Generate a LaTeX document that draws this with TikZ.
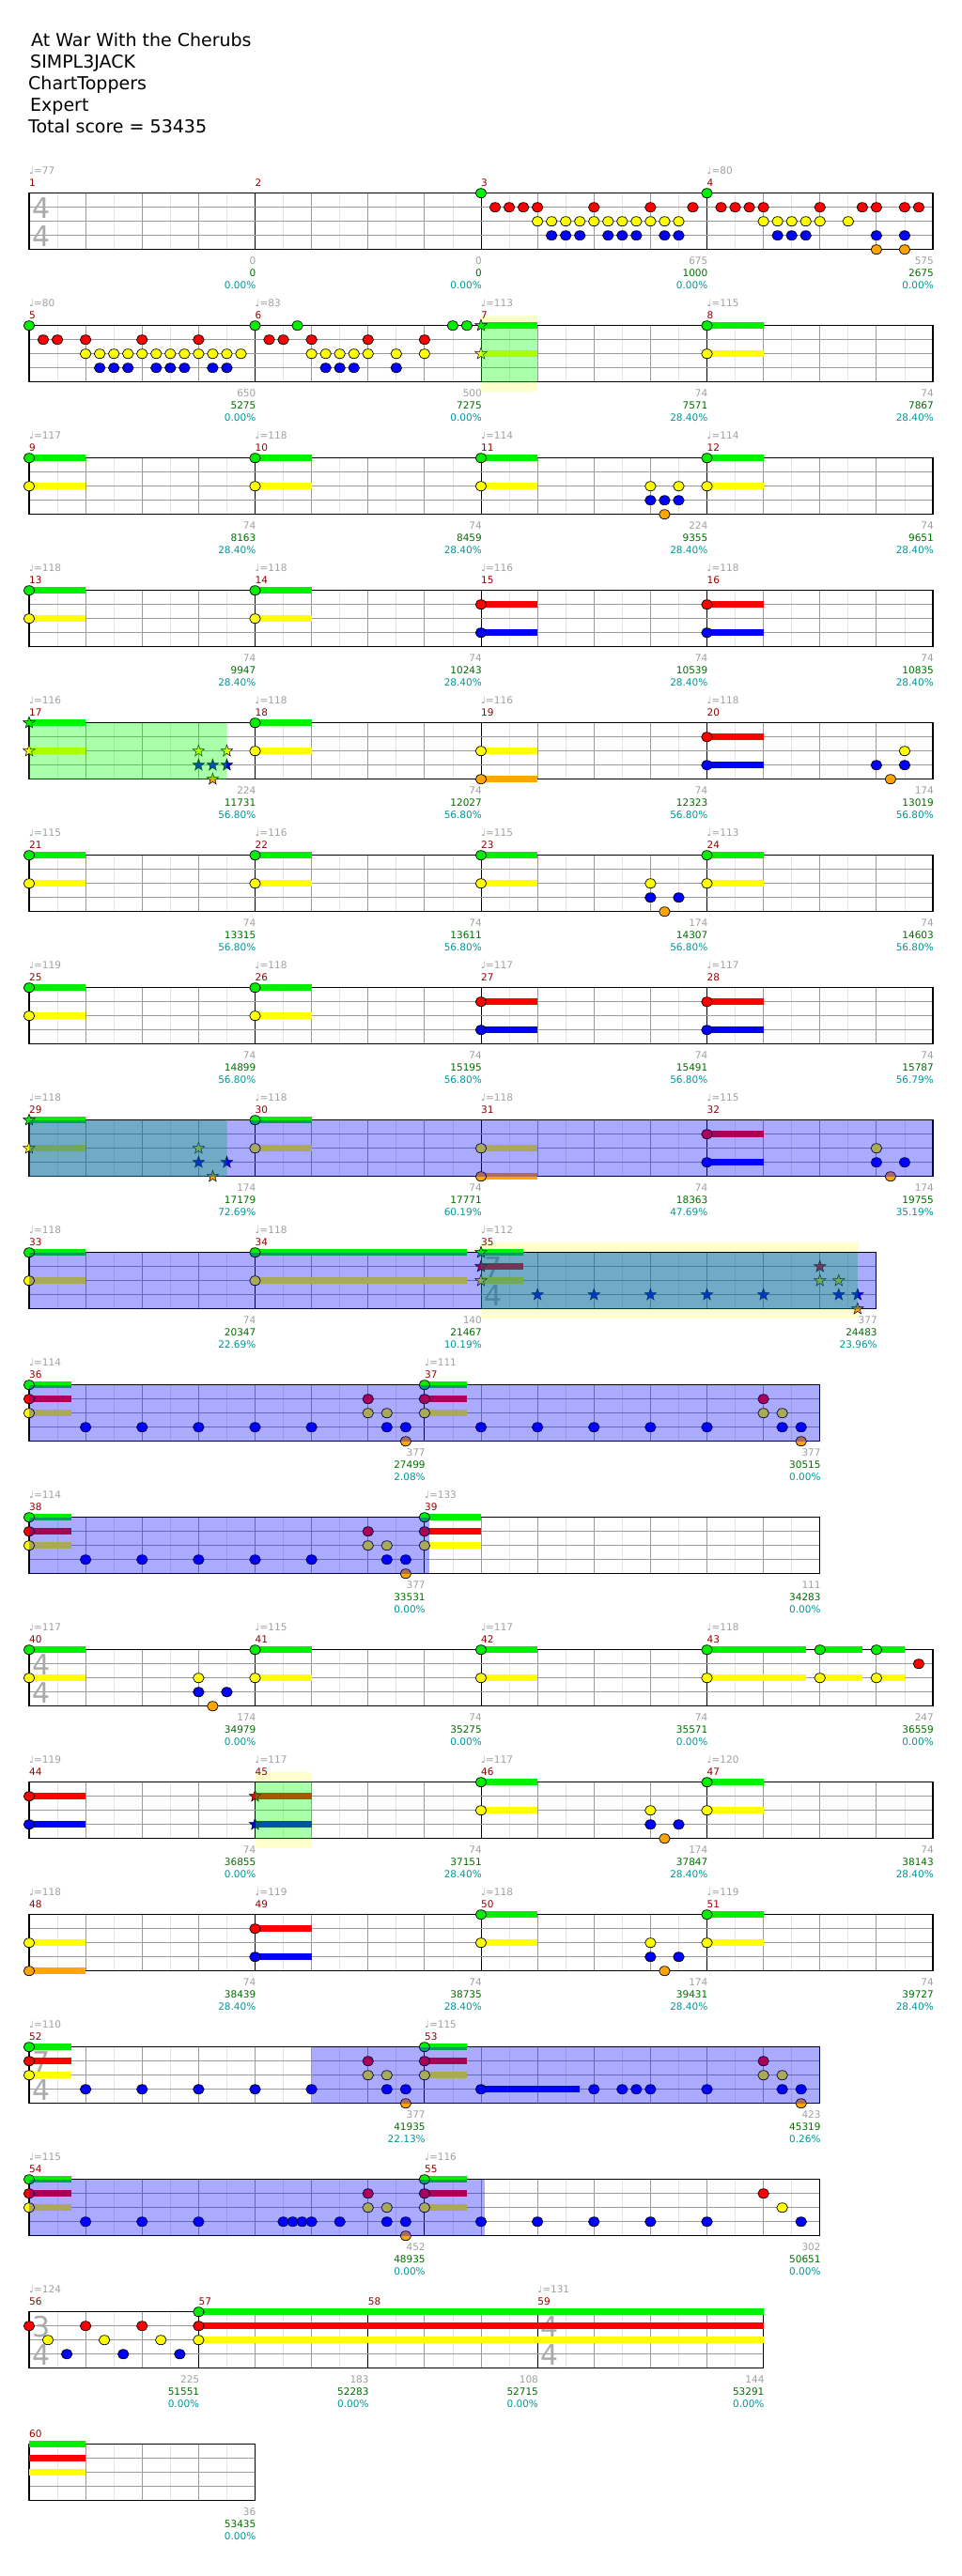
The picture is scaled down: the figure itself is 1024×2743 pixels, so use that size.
\documentclass[tikz,border=0pt]{standalone}
\usepackage{fontspec}
\setmainfont{DejaVu Sans}
\definecolor{notegreen}{RGB}{0,240,0}
\definecolor{notered}{RGB}{255,0,0}
\definecolor{noteyellow}{RGB}{255,255,0}
\definecolor{noteblue}{RGB}{0,0,255}
\definecolor{noteorange}{RGB}{255,165,0}
\definecolor{gridlight}{RGB}{228,228,228}
\definecolor{gridmid}{RGB}{155,155,155}
\definecolor{spgreen}{RGB}{0,255,0}
\definecolor{odblue}{RGB}{0,0,255}
\definecolor{soloyellow}{RGB}{255,255,204}
\definecolor{measred}{RGB}{150,0,0}
\definecolor{labelgray}{RGB}{160,160,160}
\definecolor{scoregreen}{RGB}{0,110,0}
\definecolor{pctteal}{RGB}{0,150,150}
\definecolor{sigray}{RGB}{170,170,170}
\tikzset{
  hitnote/.style={draw=black, line width=0.7pt},
  starnote/.style={draw=black, line width=0.5pt},
  halfline/.style={draw=gridlight, line width=0.8pt},
  beatline/.style={draw=gridmid, line width=0.9pt},
  laneline/.style={draw=gridmid, line width=1pt},
  measline/.style={draw=black, line width=0.8pt},
  staffedge/.style={draw=black, line width=1.2pt},
  spfill/.style={fill=spgreen, fill opacity=0.333},
  odfill/.style={fill=odblue, fill opacity=0.333},
  soloband/.style={fill=soloyellow},
  smalltext/.style={inner sep=0pt, text height=7.6pt, text depth=0pt, font=\fontsize{10.5}{12}\selectfont},
  measnum/.style={smalltext, anchor=west, text=measred},
  tempomark/.style={smalltext, anchor=west, text=labelgray},
  ptslabel/.style={smalltext, anchor=east, text=labelgray},
  scorelabel/.style={smalltext, anchor=east, text=scoregreen},
  pctlabel/.style={smalltext, anchor=east, text=pctteal},
  songinfo/.style={anchor=base west, inner sep=0pt, font=\fontsize{19}{22}\selectfont},
  timesig/.style={inner sep=0pt, text height=21.9pt, text depth=0pt, text=sigray, font=\fontsize{30}{30}\selectfont}
}
\newcommand{\hit}[4]{%
  \pgfmathsetmacro{\hx}{31+60.125*(#2)}\pgfmathsetmacro{\hy}{205.7+141*(#1)+15*(#3)}%
  \filldraw[hitnote, fill=#4] (\hx,\hy) ellipse [x radius=5.8, y radius=5];}
\newcommand{\spstar}[4]{%
  \pgfmathsetmacro{\hx}{31+60.125*(#2)}\pgfmathsetmacro{\hy}{205.7+141*(#1)+15*(#3)}%
  \filldraw[starnote, fill=#4, shift={(\hx,\hy)}] (270:6.5) -- (306:2.7) -- (342:6.5) -- (18:2.7) -- (54:6.5)
    -- (90:2.7) -- (126:6.5) -- (162:2.7) -- (198:6.5) -- (234:2.7) -- cycle;}
\newcommand{\hold}[5]{%
  \pgfmathsetmacro{\hx}{31+60.125*(#2)}\pgfmathsetmacro{\hxe}{31+60.125*(#3)}%
  \pgfmathsetmacro{\hy}{205.7+141*(#1)+15*(#4)}%
  \fill[#5] (\hx,\hy-3.5) rectangle (\hxe,\hy+3.5);}
\newcommand{\spzone}[3]{%
  \pgfmathsetmacro{\hx}{31+60.125*(#2)}\pgfmathsetmacro{\hxe}{31+60.125*(#3)}\pgfmathsetmacro{\hy}{205.7+141*(#1)}%
  \fill[spfill] (\hx,\hy) rectangle (\hxe,\hy+60);}
\newcommand{\odzone}[3]{%
  \pgfmathsetmacro{\hx}{31+60.125*(#2)}\pgfmathsetmacro{\hxe}{31+60.125*(#3)}\pgfmathsetmacro{\hy}{205.7+141*(#1)}%
  \fill[odfill] (\hx,\hy) rectangle (\hxe,\hy+60);}
\newcommand{\solo}[3]{%
  \pgfmathsetmacro{\hx}{31+60.125*(#2)}\pgfmathsetmacro{\hxe}{31+60.125*(#3)}\pgfmathsetmacro{\hy}{205.7+141*(#1)}%
  \fill[soloband] (\hx,\hy-10.7) rectangle (\hxe,\hy+70.7);}
\newcommand{\staffbg}[2]{%
  \pgfmathsetmacro{\hxe}{31+60.125*(#2)}\pgfmathsetmacro{\hy}{205.7+141*(#1)}%
  \fill[white] (31,\hy) rectangle (\hxe,\hy+60);}
\newcommand{\stafflines}[2]{%
  \pgfmathsetmacro{\hxe}{31+60.125*(#2)}\pgfmathsetmacro{\hy}{205.7+141*(#1)}%
  \foreach \ii in {1,2,3} \draw[laneline] (31,\hy+15*\ii) -- (\hxe,\hy+15*\ii);
  \draw[staffedge] (31,\hy) rectangle (\hxe,\hy+60);}
\newcommand{\tsig}[4]{%
  \pgfmathsetmacro{\hx}{44+60.125*(#2)}\pgfmathsetmacro{\hy}{205.7+141*(#1)}%
  \node[timesig] (tsig#1x#2up) at (\hx,\hy+15.5) {#3};
  \node[timesig] (tsig#1x#2dn) at (\hx,\hy+45.5) {#4};}
\newcommand{\meas}[8]{%
  \pgfmathsetmacro{\mx}{31+60.125*(#3)}\pgfmathsetmacro{\mxe}{31+60.125*(#3+#4)}%
  \pgfmathsetmacro{\my}{205.7+141*(#1)}%
  \foreach \k in {1,...,#4} \draw[halfline] ({\mx+60.125*(\k-0.5)},\my) -- ++(0,60);
  \foreach \k in {1,...,#4} \draw[beatline] ({\mx+60.125*\k},\my) -- ++(0,60);
  \draw[measline] (\mx,\my) -- ++(0,60);
  \node[measnum] (mnum#2) at (\mx,\my-11.4) {#2};
  \if\relax\detokenize{#5}\relax\else\node[tempomark] (mtempo#2) at (\mx,\my-24.5) {♩=#5};\fi
  \node[ptslabel] (mpts#2) at (\mxe+1,\my+72.3) {#6};
  \node[scorelabel] (mscore#2) at (\mxe+1,\my+85.3) {#7};
  \node[pctlabel] (mpct#2) at (\mxe+1,\my+98.3) {#8};}
\begin{document}
\begin{tikzpicture}[x=1pt, y=-1pt]
\useasboundingbox (0,0) rectangle (1024,2743);
\fill[white] (0,0) rectangle (1024,2743);
\node[songinfo] (songtitle) at (33,49.5) {At War With the Cherubs};
\node[songinfo] (songartist) at (32,72.5) {SIMPL3JACK};
\node[songinfo] (songcharter) at (30,95.5) {ChartToppers};
\node[songinfo] (songlevel) at (32,118.5) {Expert};
\node[songinfo] (songscore) at (30,141.5) {Total score = 53435};

\staffbg{0}{16}
\meas{0}{1}{0}{4}{77}{0}{0}{0.00\%}
\meas{0}{2}{4}{4}{}{0}{0}{0.00\%}
\meas{0}{3}{8}{4}{}{675}{1000}{0.00\%}
\meas{0}{4}{12}{4}{80}{575}{2675}{0.00\%}
\stafflines{0}{16}
\tsig{0}{0}{4}{4}
\foreach \b in {8,12} \hit{0}{\b}{0}{notegreen};
\foreach \b in {8.25,8.5,8.75,9,10,11,11.75,12.25,12.5,12.75,13,14,14.75,15,15.5,15.75} \hit{0}{\b}{1}{notered};
\foreach \b in {9,9.25,9.5,9.75,10,10.25,10.5,10.75,11,11.25,11.5,13,13.25,13.5,13.75,14,14.5} \hit{0}{\b}{2}{noteyellow};
\foreach \b in {9.25,9.5,9.75,10.25,10.5,10.75,11.25,11.5,13.25,13.5,13.75,15,15.5} \hit{0}{\b}{3}{noteblue};
\foreach \b in {15,15.5} \hit{0}{\b}{4}{noteorange};

\solo{1}{8}{9}
\staffbg{1}{16}
\meas{1}{5}{0}{4}{80}{650}{5275}{0.00\%}
\meas{1}{6}{4}{4}{83}{500}{7275}{0.00\%}
\meas{1}{7}{8}{4}{113}{74}{7571}{28.40\%}
\meas{1}{8}{12}{4}{115}{74}{7867}{28.40\%}
\stafflines{1}{16}
\hold{1}{8}{9}{0}{notegreen} \hold{1}{12}{13}{0}{notegreen}
\hold{1}{8}{9}{2}{noteyellow} \hold{1}{12}{13}{2}{noteyellow}
\foreach \b in {0,4,4.75,7.5,7.75,12} \hit{1}{\b}{0}{notegreen};
\foreach \b in {0.25,0.5,1,2,3,4.25,4.5,5,6,7} \hit{1}{\b}{1}{notered};
\foreach \b in {1,1.25,1.5,1.75,2,2.25,2.5,2.75,3,3.25,3.5,3.75,5,5.25,5.5,5.75,6,6.5,7,12} \hit{1}{\b}{2}{noteyellow};
\foreach \b in {1.25,1.5,1.75,2.25,2.5,2.75,3.25,3.5,5.25,5.5,5.75,6.5} \hit{1}{\b}{3}{noteblue};
\spstar{1}{8}{0}{notegreen} \spstar{1}{8}{2}{noteyellow}
\spzone{1}{8}{9}

\staffbg{2}{16}
\meas{2}{9}{0}{4}{117}{74}{8163}{28.40\%}
\meas{2}{10}{4}{4}{118}{74}{8459}{28.40\%}
\meas{2}{11}{8}{4}{114}{224}{9355}{28.40\%}
\meas{2}{12}{12}{4}{114}{74}{9651}{28.40\%}
\stafflines{2}{16}
\foreach \b in {0,4,8,12} {\hold{2}{\b}{\b+1}{0}{notegreen} \hold{2}{\b}{\b+1}{2}{noteyellow}}
\foreach \b in {0,4,8,12} \hit{2}{\b}{0}{notegreen};
\foreach \b in {0,4,8,11,11.5,12} \hit{2}{\b}{2}{noteyellow};
\foreach \b in {11,11.25,11.5} \hit{2}{\b}{3}{noteblue};
\hit{2}{11.25}{4}{noteorange}

\staffbg{3}{16}
\meas{3}{13}{0}{4}{118}{74}{9947}{28.40\%}
\meas{3}{14}{4}{4}{118}{74}{10243}{28.40\%}
\meas{3}{15}{8}{4}{116}{74}{10539}{28.40\%}
\meas{3}{16}{12}{4}{118}{74}{10835}{28.40\%}
\stafflines{3}{16}
\foreach \b in {0,4} {\hold{3}{\b}{\b+1}{0}{notegreen} \hold{3}{\b}{\b+1}{2}{noteyellow}
  \hit{3}{\b}{0}{notegreen} \hit{3}{\b}{2}{noteyellow}}
\foreach \b in {8,12} {\hold{3}{\b}{\b+1}{1}{notered} \hold{3}{\b}{\b+1}{3}{noteblue}
  \hit{3}{\b}{1}{notered} \hit{3}{\b}{3}{noteblue}}

\staffbg{4}{16}
\meas{4}{17}{0}{4}{116}{224}{11731}{56.80\%}
\meas{4}{18}{4}{4}{118}{74}{12027}{56.80\%}
\meas{4}{19}{8}{4}{116}{74}{12323}{56.80\%}
\meas{4}{20}{12}{4}{118}{174}{13019}{56.80\%}
\stafflines{4}{16}
\hold{4}{0}{1}{0}{notegreen} \hold{4}{4}{5}{0}{notegreen}
\hold{4}{0}{1}{2}{noteyellow} \hold{4}{4}{5}{2}{noteyellow} \hold{4}{8}{9}{2}{noteyellow}
\hold{4}{8}{9}{4}{noteorange} \hold{4}{12}{13}{1}{notered} \hold{4}{12}{13}{3}{noteblue}
\hit{4}{4}{0}{notegreen}
\foreach \b in {4,8,15.5} \hit{4}{\b}{2}{noteyellow};
\foreach \b in {8,15.25} \hit{4}{\b}{4}{noteorange};
\hit{4}{12}{1}{notered}
\foreach \b in {12,15,15.5} \hit{4}{\b}{3}{noteblue};
\spstar{4}{0}{0}{notegreen}
\foreach \b in {0,3,3.5} \spstar{4}{\b}{2}{noteyellow};
\foreach \b in {3,3.25,3.5} \spstar{4}{\b}{3}{noteblue};
\spstar{4}{3.25}{4}{noteorange}
\spzone{4}{0}{3.5}

\staffbg{5}{16}
\meas{5}{21}{0}{4}{115}{74}{13315}{56.80\%}
\meas{5}{22}{4}{4}{116}{74}{13611}{56.80\%}
\meas{5}{23}{8}{4}{115}{174}{14307}{56.80\%}
\meas{5}{24}{12}{4}{113}{74}{14603}{56.80\%}
\stafflines{5}{16}
\foreach \b in {0,4,8,12} {\hold{5}{\b}{\b+1}{0}{notegreen} \hold{5}{\b}{\b+1}{2}{noteyellow}}
\foreach \b in {0,4,8,12} \hit{5}{\b}{0}{notegreen};
\foreach \b in {0,4,8,11,12} \hit{5}{\b}{2}{noteyellow};
\foreach \b in {11,11.5} \hit{5}{\b}{3}{noteblue};
\hit{5}{11.25}{4}{noteorange}

\staffbg{6}{16}
\meas{6}{25}{0}{4}{119}{74}{14899}{56.80\%}
\meas{6}{26}{4}{4}{118}{74}{15195}{56.80\%}
\meas{6}{27}{8}{4}{117}{74}{15491}{56.80\%}
\meas{6}{28}{12}{4}{117}{74}{15787}{56.79\%}
\stafflines{6}{16}
\foreach \b in {0,4} {\hold{6}{\b}{\b+1}{0}{notegreen} \hold{6}{\b}{\b+1}{2}{noteyellow}
  \hit{6}{\b}{0}{notegreen} \hit{6}{\b}{2}{noteyellow}}
\foreach \b in {8,12} {\hold{6}{\b}{\b+1}{1}{notered} \hold{6}{\b}{\b+1}{3}{noteblue}
  \hit{6}{\b}{1}{notered} \hit{6}{\b}{3}{noteblue}}

\staffbg{7}{16}
\meas{7}{29}{0}{4}{118}{174}{17179}{72.69\%}
\meas{7}{30}{4}{4}{118}{74}{17771}{60.19\%}
\meas{7}{31}{8}{4}{118}{74}{18363}{47.69\%}
\meas{7}{32}{12}{4}{115}{174}{19755}{35.19\%}
\stafflines{7}{16}
\hold{7}{0}{1}{0}{notegreen} \hold{7}{4}{5}{0}{notegreen}
\hold{7}{0}{1}{2}{noteyellow} \hold{7}{4}{5}{2}{noteyellow} \hold{7}{8}{9}{2}{noteyellow}
\hold{7}{8}{9}{4}{noteorange} \hold{7}{12}{13}{1}{notered} \hold{7}{12}{13}{3}{noteblue}
\hit{7}{4}{0}{notegreen}
\foreach \b in {4,8,15} \hit{7}{\b}{2}{noteyellow};
\foreach \b in {8,15.25} \hit{7}{\b}{4}{noteorange};
\hit{7}{12}{1}{notered}
\foreach \b in {12,15,15.5} \hit{7}{\b}{3}{noteblue};
\spstar{7}{0}{0}{notegreen}
\foreach \b in {0,3} \spstar{7}{\b}{2}{noteyellow};
\foreach \b in {3,3.5} \spstar{7}{\b}{3}{noteblue};
\spstar{7}{3.25}{4}{noteorange}
\spzone{7}{0}{3.5}
\odzone{7}{0}{16}

\solo{8}{8}{14.667}
\staffbg{8}{15}
\meas{8}{33}{0}{4}{118}{74}{20347}{22.69\%}
\meas{8}{34}{4}{4}{118}{140}{21467}{10.19\%}
\meas{8}{35}{8}{7}{112}{377}{24483}{23.96\%}
\stafflines{8}{15}
\tsig{8}{8}{7}{4}
\hold{8}{0}{1}{0}{notegreen} \hold{8}{4}{7.75}{0}{notegreen} \hold{8}{8}{8.75}{0}{notegreen}
\hold{8}{0}{1}{2}{noteyellow} \hold{8}{4}{7.75}{2}{noteyellow} \hold{8}{8}{8.75}{2}{noteyellow}
\hold{8}{8}{8.75}{1}{notered}
\foreach \b in {0,4} {\hit{8}{\b}{0}{notegreen} \hit{8}{\b}{2}{noteyellow}}
\spstar{8}{8}{0}{notegreen}
\foreach \b in {8,14} \spstar{8}{\b}{1}{notered};
\foreach \b in {8,14,14.333} \spstar{8}{\b}{2}{noteyellow};
\foreach \b in {9,10,11,12,13,14.333,14.667} \spstar{8}{\b}{3}{noteblue};
\spstar{8}{14.667}{4}{noteorange}
\spzone{8}{8}{14.667}
\odzone{8}{0}{15}

\staffbg{9}{14}
\meas{9}{36}{0}{7}{114}{377}{27499}{2.08\%}
\meas{9}{37}{7}{7}{111}{377}{30515}{0.00\%}
\stafflines{9}{14}
\foreach \b in {0,7} {\hold{9}{\b}{\b+0.75}{0}{notegreen} \hold{9}{\b}{\b+0.75}{1}{notered} \hold{9}{\b}{\b+0.75}{2}{noteyellow}}
\foreach \b in {0,7} \hit{9}{\b}{0}{notegreen};
\foreach \b in {0,6,7,13} \hit{9}{\b}{1}{notered};
\foreach \b in {0,6,6.333,7,13,13.333} \hit{9}{\b}{2}{noteyellow};
\foreach \b in {1,2,3,4,5,6.333,6.667,8,9,10,11,12,13.333,13.667} \hit{9}{\b}{3}{noteblue};
\foreach \b in {6.667,13.667} \hit{9}{\b}{4}{noteorange};
\odzone{9}{0}{14}

\staffbg{10}{14}
\meas{10}{38}{0}{7}{114}{377}{33531}{0.00\%}
\meas{10}{39}{7}{7}{133}{111}{34283}{0.00\%}
\stafflines{10}{14}
\hold{10}{0}{0.75}{0}{notegreen} \hold{10}{0}{0.75}{1}{notered} \hold{10}{0}{0.75}{2}{noteyellow}
\hold{10}{7}{8}{0}{notegreen} \hold{10}{7}{8}{1}{notered} \hold{10}{7}{8}{2}{noteyellow}
\foreach \b in {0,7} \hit{10}{\b}{0}{notegreen};
\foreach \b in {0,6,7} \hit{10}{\b}{1}{notered};
\foreach \b in {0,6,6.333,7} \hit{10}{\b}{2}{noteyellow};
\foreach \b in {1,2,3,4,5,6.333,6.667} \hit{10}{\b}{3}{noteblue};
\hit{10}{6.667}{4}{noteorange}
\odzone{10}{0}{7.08}

\staffbg{11}{16}
\meas{11}{40}{0}{4}{117}{174}{34979}{0.00\%}
\meas{11}{41}{4}{4}{115}{74}{35275}{0.00\%}
\meas{11}{42}{8}{4}{117}{74}{35571}{0.00\%}
\meas{11}{43}{12}{4}{118}{247}{36559}{0.00\%}
\stafflines{11}{16}
\tsig{11}{0}{4}{4}
\foreach \b/\e in {0/1,4/5,8/9,12/13.75,14/14.75,15/15.5} {\hold{11}{\b}{\e}{0}{notegreen} \hold{11}{\b}{\e}{2}{noteyellow}}
\foreach \b in {0,4,8,12,14,15} \hit{11}{\b}{0}{notegreen};
\foreach \b in {0,3,4,8,12,14,15} \hit{11}{\b}{2}{noteyellow};
\foreach \b in {3,3.5} \hit{11}{\b}{3}{noteblue};
\hit{11}{3.25}{4}{noteorange}
\hit{11}{15.75}{1}{notered}

\solo{12}{4}{5}
\staffbg{12}{16}
\meas{12}{44}{0}{4}{119}{74}{36855}{0.00\%}
\meas{12}{45}{4}{4}{117}{74}{37151}{28.40\%}
\meas{12}{46}{8}{4}{117}{174}{37847}{28.40\%}
\meas{12}{47}{12}{4}{120}{74}{38143}{28.40\%}
\stafflines{12}{16}
\foreach \b in {0,4} {\hold{12}{\b}{\b+1}{1}{notered} \hold{12}{\b}{\b+1}{3}{noteblue}}
\foreach \b in {8,12} {\hold{12}{\b}{\b+1}{0}{notegreen} \hold{12}{\b}{\b+1}{2}{noteyellow}}
\hit{12}{0}{1}{notered}
\foreach \b in {0,11,11.5} \hit{12}{\b}{3}{noteblue};
\foreach \b in {8,12} \hit{12}{\b}{0}{notegreen};
\foreach \b in {8,11,12} \hit{12}{\b}{2}{noteyellow};
\hit{12}{11.25}{4}{noteorange}
\spstar{12}{4}{1}{notered} \spstar{12}{4}{3}{noteblue}
\spzone{12}{4}{5}

\staffbg{13}{16}
\meas{13}{48}{0}{4}{118}{74}{38439}{28.40\%}
\meas{13}{49}{4}{4}{119}{74}{38735}{28.40\%}
\meas{13}{50}{8}{4}{118}{174}{39431}{28.40\%}
\meas{13}{51}{12}{4}{119}{74}{39727}{28.40\%}
\stafflines{13}{16}
\hold{13}{0}{1}{2}{noteyellow} \hold{13}{0}{1}{4}{noteorange}
\hold{13}{4}{5}{1}{notered} \hold{13}{4}{5}{3}{noteblue}
\foreach \b in {8,12} {\hold{13}{\b}{\b+1}{0}{notegreen} \hold{13}{\b}{\b+1}{2}{noteyellow}}
\foreach \b in {0,8,11,12} \hit{13}{\b}{2}{noteyellow};
\foreach \b in {0,11.25} \hit{13}{\b}{4}{noteorange};
\hit{13}{4}{1}{notered}
\foreach \b in {4,11,11.5} \hit{13}{\b}{3}{noteblue};
\foreach \b in {8,12} \hit{13}{\b}{0}{notegreen};

\staffbg{14}{14}
\meas{14}{52}{0}{7}{110}{377}{41935}{22.13\%}
\meas{14}{53}{7}{7}{115}{423}{45319}{0.26\%}
\stafflines{14}{14}
\tsig{14}{0}{7}{4}
\foreach \b in {0,7} {\hold{14}{\b}{\b+0.75}{0}{notegreen} \hold{14}{\b}{\b+0.75}{1}{notered} \hold{14}{\b}{\b+0.75}{2}{noteyellow}}
\hold{14}{8}{9.75}{3}{noteblue}
\foreach \b in {0,7} \hit{14}{\b}{0}{notegreen};
\foreach \b in {0,6,7,13} \hit{14}{\b}{1}{notered};
\foreach \b in {0,6,6.333,7,13,13.333} \hit{14}{\b}{2}{noteyellow};
\foreach \b in {1,2,3,4,5,6.333,6.667,8,10,10.5,10.75,11,12,13.333,13.667} \hit{14}{\b}{3}{noteblue};
\foreach \b in {6.667,13.667} \hit{14}{\b}{4}{noteorange};
\odzone{14}{5}{14}

\staffbg{15}{14}
\meas{15}{54}{0}{7}{115}{452}{48935}{0.00\%}
\meas{15}{55}{7}{7}{116}{302}{50651}{0.00\%}
\stafflines{15}{14}
\foreach \b in {0,7} {\hold{15}{\b}{\b+0.75}{0}{notegreen} \hold{15}{\b}{\b+0.75}{1}{notered} \hold{15}{\b}{\b+0.75}{2}{noteyellow}}
\foreach \b in {0,7} \hit{15}{\b}{0}{notegreen};
\foreach \b in {0,6,7,13} \hit{15}{\b}{1}{notered};
\foreach \b in {0,6,6.333,7,13.333} \hit{15}{\b}{2}{noteyellow};
\foreach \b in {1,2,3,4.5,4.667,4.833,5,5.5,6.333,6.667,8,9,10,11,12,13.667} \hit{15}{\b}{3}{noteblue};
\hit{15}{6.667}{4}{noteorange}
\odzone{15}{0}{8.07}

\staffbg{16}{13}
\meas{16}{56}{0}{3}{124}{225}{51551}{0.00\%}
\meas{16}{57}{3}{3}{}{183}{52283}{0.00\%}
\meas{16}{58}{6}{3}{}{108}{52715}{0.00\%}
\meas{16}{59}{9}{4}{131}{144}{53291}{0.00\%}
\stafflines{16}{13}
\tsig{16}{0}{3}{4}
\tsig{16}{9}{4}{4}
\hold{16}{3}{13}{0}{notegreen} \hold{16}{3}{13}{1}{notered} \hold{16}{3}{13}{2}{noteyellow}
\hit{16}{3}{0}{notegreen}
\foreach \b in {0,1,2,3} \hit{16}{\b}{1}{notered};
\foreach \b in {0.333,1.333,2.333,3} \hit{16}{\b}{2}{noteyellow};
\foreach \b in {0.667,1.667,2.667} \hit{16}{\b}{3}{noteblue};

\staffbg{17}{4}
\meas{17}{60}{0}{4}{}{36}{53435}{0.00\%}
\stafflines{17}{4}
\hold{17}{0}{1}{0}{notegreen} \hold{17}{0}{1}{1}{notered} \hold{17}{0}{1}{2}{noteyellow}
\end{tikzpicture}
\end{document}
